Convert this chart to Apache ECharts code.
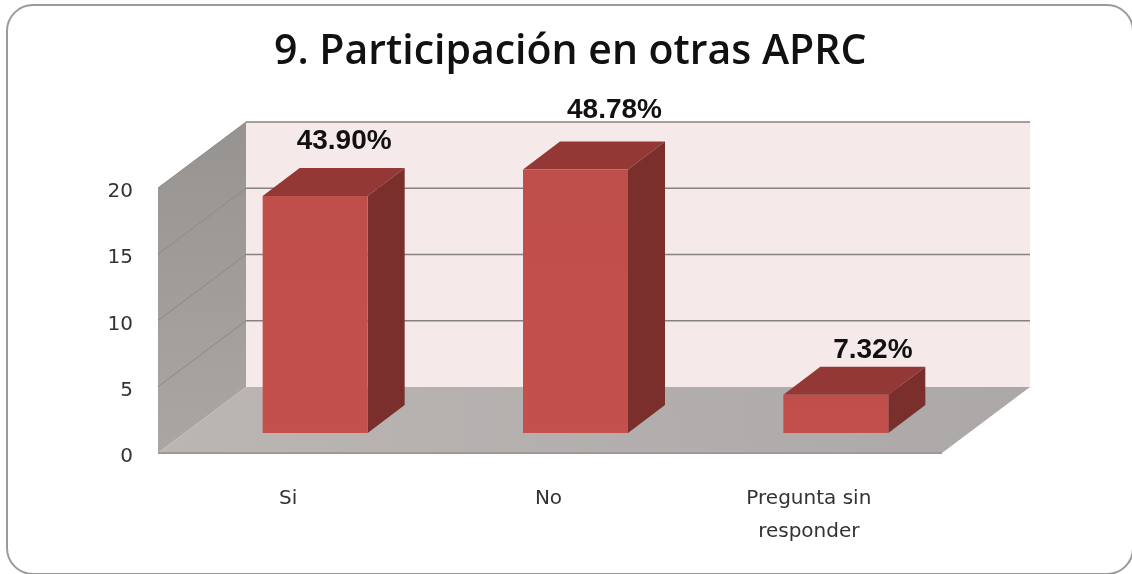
<!DOCTYPE html>
<html>
<head>
<meta charset="utf-8">
<style>
  html, body { margin: 0; padding: 0; background: #fff; }
  #chart { width: 1132px; height: 574px; }
</style>
<script src="https://cdn.jsdelivr.net/npm/echarts@6/dist/echarts.min.js"></script>
</head>
<body>
<div id="chart"></div>
<script>
const categories = ['Si', 'No', 'Pregunta sin\nresponder'];
const counts = [18, 20, 3];
const percentLabels = ['43.90%', '48.78%', '7.32%'];
const yTicks = [0, 5, 10, 15, 20];

// fake 3d: how far the back wall and the bars are pushed up and to the right
const WALL_DX = 88, WALL_DY = -66;
const FLOOR_EXTRA = 3;
const BAR_X = 27, BAR_Y = -20, BAR_TOP_Y = -18.5, BAR_W = 105, BAR_DX = 37, BAR_DY = -28;
const labelNudge = [[29, -55], [39, -59], [37, -44]];

const chart = echarts.init(document.getElementById('chart'));

const poly = (points, fill) => ({
  type: 'polygon',
  shape: { points },
  style: { fill }
});

const vgrad = (a, b) => new echarts.graphic.LinearGradient(0, 0, 0, 1, [
  { offset: 0, color: a },
  { offset: 1, color: b }
]);

const renderWalls = (params, api) => {
  const rect = params.coordSys;
  const left = rect.x, right = rect.x + rect.width + FLOOR_EXTRA;
  const bottom = api.coord([0, 0])[1];
  const top = api.coord([0, yTicks[yTicks.length - 1]])[1];
  const children = [
    poly([[left + WALL_DX, top + WALL_DY], [right + WALL_DX, top + WALL_DY],
      [right + WALL_DX, bottom + WALL_DY], [left + WALL_DX, bottom + WALL_DY]], '#f6e9e9'),
    poly([[left, top], [left + WALL_DX, top + WALL_DY], [left + WALL_DX, bottom + WALL_DY], [left, bottom]],
      vgrad('#979391', '#aaa6a4')),
    poly([[left, bottom], [left + WALL_DX, bottom + WALL_DY], [right + WALL_DX, bottom + WALL_DY], [right, bottom]],
      new echarts.graphic.LinearGradient(0, 1, 1, 0, [
        { offset: 0, color: '#bbb6b3' },
        { offset: 1, color: '#aca8a8' }
      ]))
  ];
  yTicks.forEach((t) => {
    const y = api.coord([0, t])[1];
    if (t > 0) {
      children.push({
        type: 'line',
        shape: { x1: left, y1: y, x2: left + WALL_DX, y2: y + WALL_DY },
        style: { stroke: '#8d8987', lineWidth: 1 }
      });
      children.push({
        type: 'line',
        shape: { x1: left + WALL_DX, y1: y + WALL_DY, x2: right + WALL_DX, y2: y + WALL_DY },
        style: { stroke: '#85827f', lineWidth: 1.5 }
      });
    }
  });
  children.push({
    type: 'line',
    shape: { x1: left, y1: bottom, x2: right, y2: bottom },
    style: { stroke: '#9c9a98', lineWidth: 2 }
  });
  return { type: 'group', children };
};

const renderBar = (params, api) => {
  const i = api.value(0);
  const base = api.coord([i, 0]);
  const head = api.coord([i, api.value(1)]);
  const x0 = base[0] + BAR_X - BAR_W / 2;
  const x1 = x0 + BAR_W;
  const y0 = base[1] + BAR_Y;
  const y1 = head[1] + BAR_TOP_Y;
  const nudge = labelNudge[i];
  return {
    type: 'group',
    children: [
      poly([[x0, y1], [x1, y1], [x1 + BAR_DX, y1 + BAR_DY], [x0 + BAR_DX, y1 + BAR_DY]], '#943835'),
      poly([[x1, y1], [x1 + BAR_DX, y1 + BAR_DY], [x1 + BAR_DX, y0 + BAR_DY], [x1, y0]], '#7a2f2d'),
      poly([[x0, y1], [x1, y1], [x1, y0], [x0, y0]], vgrad('#bf4f4b', '#c4504c')),
      {
        type: 'text',
        style: {
          text: percentLabels[i],
          x: x0 + BAR_W / 2 + nudge[0],
          y: y1 + nudge[1],
          align: 'center',
          verticalAlign: 'middle',
          fill: '#111',
          font: 'bold 28px "Liberation Sans", Arial, sans-serif'
        }
      }
    ]
  };
};

chart.setOption({
  animation: false,
  backgroundColor: '#fff',
  title: {
    text: '9. Participación en otras APRC',
    left: 274,
    top: 32,
    padding: [0, 0, 0, 0],
    textStyle: {
      fontFamily: '"Open Sans", sans-serif',
      fontSize: 41,
      fontWeight: 600,
      color: '#111'
    }
  },
  graphic: [{
    type: 'rect',
    silent: true,
    z: -1,
    shape: { x: 7, y: 5, width: 1126, height: 569, r: 26 },
    style: { fill: '#fff', stroke: '#9a9a9a', lineWidth: 2 }
  }],
  grid: { left: 158, width: 781, top: 188, height: 265 },
  xAxis: {
    type: 'category',
    data: categories,
    axisLine: { show: false },
    axisTick: { show: false },
    axisLabel: {
      margin: 29,
      interval: 0,
      lineHeight: 33,
      fontFamily: '"DejaVu Sans", sans-serif',
      fontSize: 20,
      color: '#333'
    }
  },
  yAxis: {
    type: 'value',
    min: 0,
    max: 20,
    interval: 5,
    axisLine: { show: false },
    axisTick: { show: false },
    splitLine: { show: false },
    axisLabel: {
      margin: 25,
      verticalAlign: 'top',
      lineHeight: 8,
      fontFamily: '"DejaVu Sans", sans-serif',
      fontSize: 20,
      color: '#333'
    }
  },
  series: [
    {
      type: 'custom',
      name: 'walls',
      silent: true,
      clip: false,
      z: 1,
      data: [[0, 0]],
      renderItem: renderWalls
    },
    {
      type: 'custom',
      name: 'Participación',
      clip: false,
      z: 2,
      encode: { x: 0, y: 1 },
      data: counts.map((v, i) => [i, v]),
      renderItem: renderBar
    }
  ]
});

window.addEventListener('resize', () => chart.resize());
</script>
</body>
</html>
